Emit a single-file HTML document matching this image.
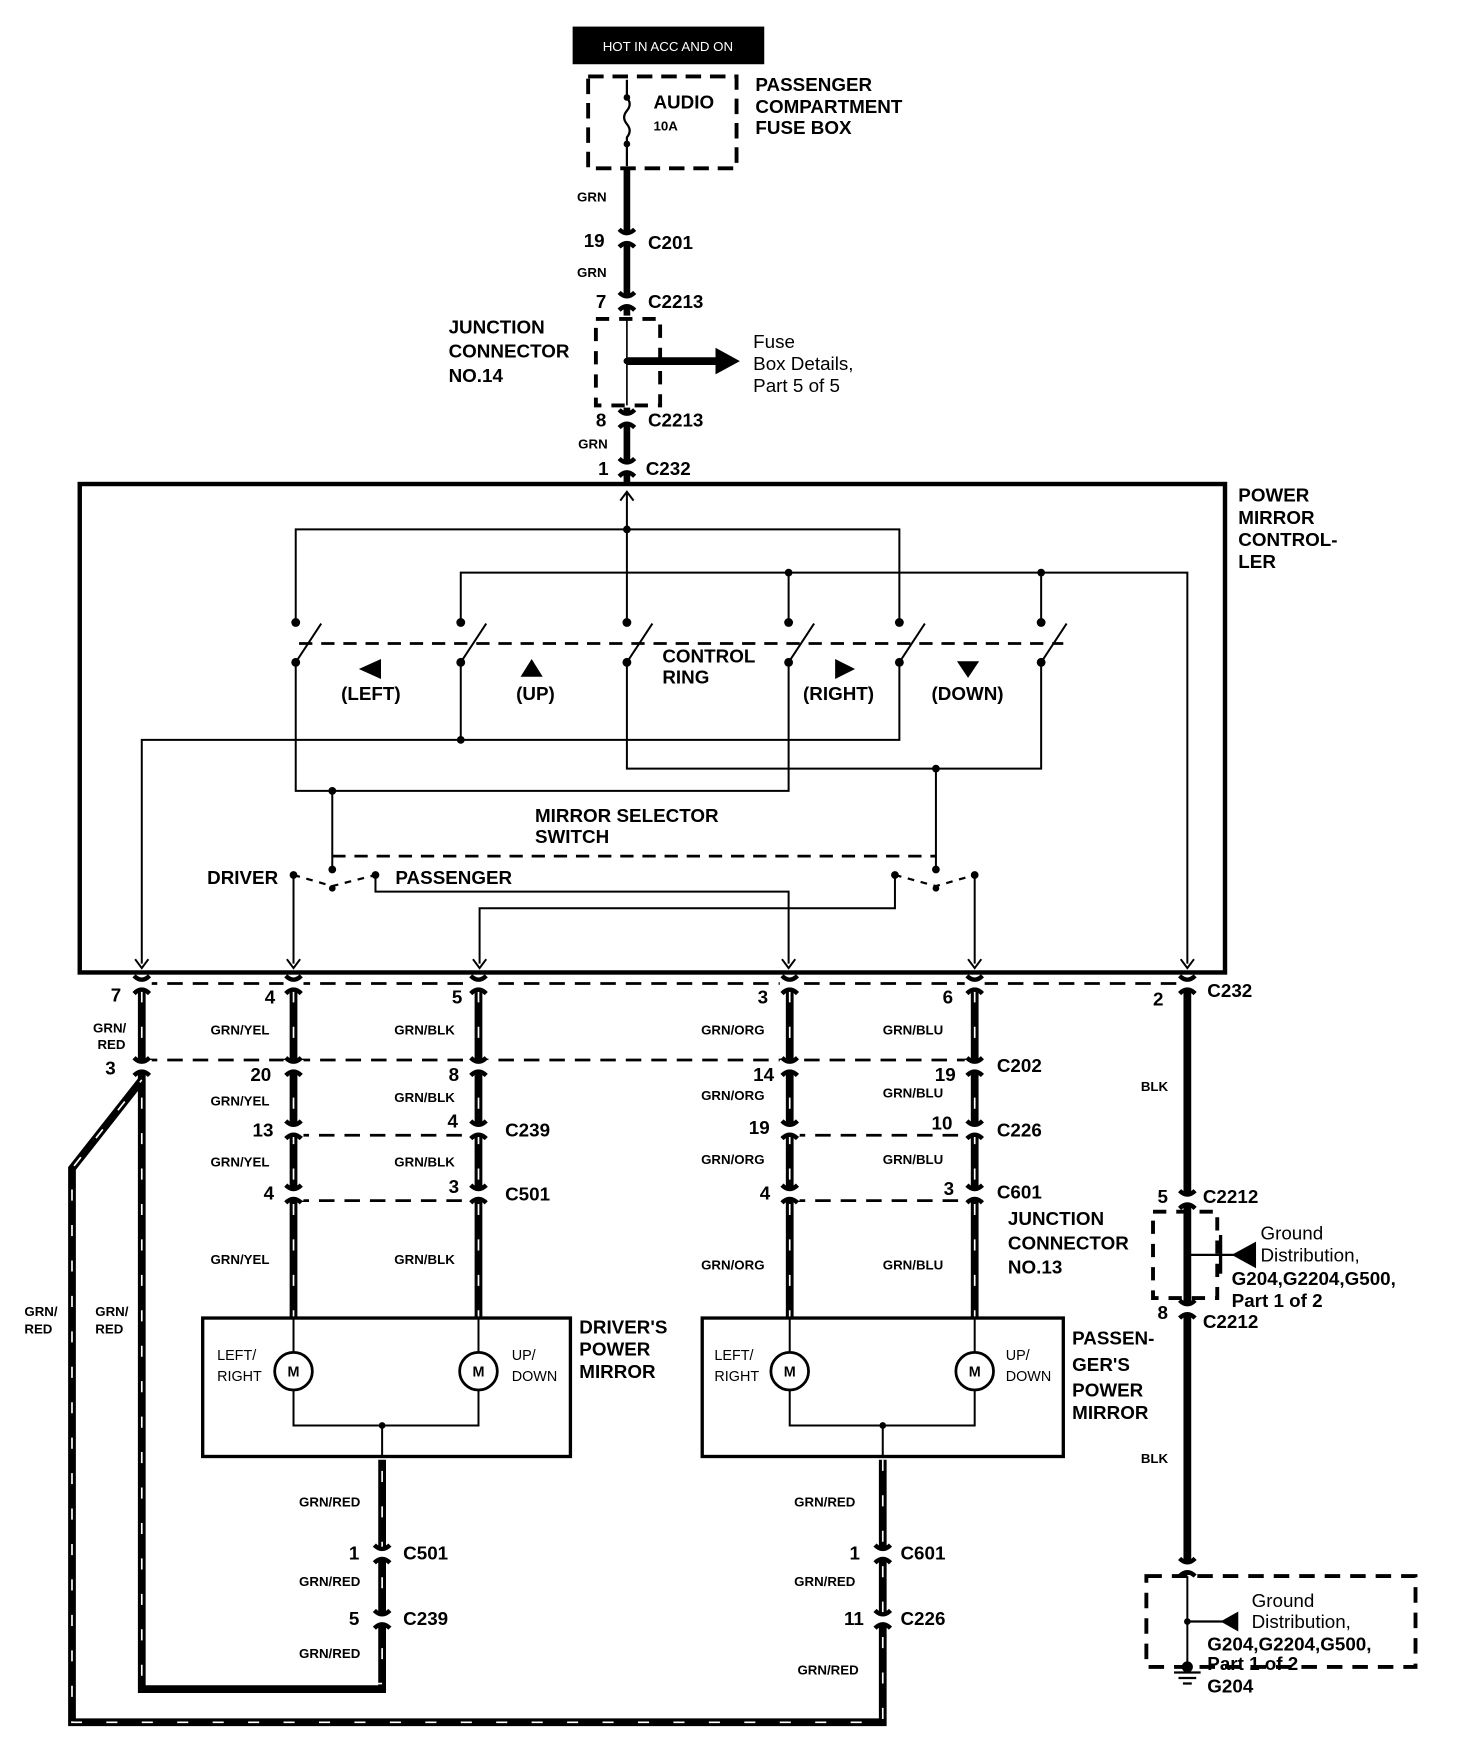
<!DOCTYPE html>
<html><head><meta charset="utf-8"><style>
html,body{margin:0;padding:0;background:#fff}
svg{display:block}
text{font-family:"Liberation Sans",sans-serif;font-weight:bold;fill:#000}
.t{font-size:17px}
.s{font-size:12px}
.m{font-size:18px}
.n{font-size:17px;font-weight:normal}
</style></head><body>
<svg width="1472" height="1750" viewBox="0 0 1329 1580" preserveAspectRatio="none" xmlns="http://www.w3.org/2000/svg">
<defs>
<g id="cn"><rect x="-9" y="-6" width="18" height="12" fill="#fff"/><path d="M-7,-8 Q0,-1 7,-8 M-7,8 Q0,1 7,8" fill="none" stroke="#000" stroke-width="4"/></g>
<g id="ar"><path d="M-6,-8 L0,0 L6,-8" fill="none" stroke="#000" stroke-width="1.8"/></g>
</defs>
<rect width="1329" height="1580" fill="#fff"/>
<!-- top -->
<rect x="517" y="24" width="173" height="34" fill="#000"/>
<text x="603" y="46" font-size="12" text-anchor="middle" style="fill:#fff;font-weight:normal">HOT IN ACC AND ON</text>
<rect x="531" y="69" width="134" height="83" fill="none" stroke="#000" stroke-width="3.5" stroke-dasharray="14,8"/>
<path d="M566,72 V88 q5,6 0,12 q-5,6 0,12 q5,6 0,12 V150" fill="none" stroke="#000" stroke-width="2"/>
<circle cx="566" cy="88" r="3"/><circle cx="566" cy="130" r="3"/>
<text x="590" y="98" class="t">AUDIO</text><text x="590" y="118" class="s">10A</text>
<text x="682" y="82" class="t">PASSENGER</text><text x="682" y="102" class="t">COMPARTMENT</text><text x="682" y="121" class="t">FUSE BOX</text>
<line x1="566" y1="152" x2="566" y2="285" stroke="#000" stroke-width="6"/>
<line x1="566" y1="368" x2="566" y2="437" stroke="#000" stroke-width="6"/>
<text x="521" y="182" class="s">GRN</text><text x="521" y="250" class="s">GRN</text><text x="522" y="405" class="s">GRN</text>
<use href="#cn" x="566" y="215"/><text x="527" y="223" class="t">19</text><text x="585" y="225" class="t">C201</text>
<use href="#cn" x="566" y="272"/><text x="538" y="278" class="t">7</text><text x="585" y="278" class="t">C2213</text>
<rect x="538" y="288" width="58" height="78" fill="none" stroke="#000" stroke-width="3.5" stroke-dasharray="12,9"/>
<line x1="566" y1="288" x2="566" y2="366" stroke="#000" stroke-width="1.5"/>
<circle cx="566" cy="326" r="3"/>
<line x1="566" y1="326" x2="650" y2="326" stroke="#000" stroke-width="7"/>
<path d="M646,314 L668,326 L646,338Z"/>
<text x="680" y="314" class="n">Fuse</text><text x="680" y="334" class="n">Box Details,</text><text x="680" y="354" class="n">Part 5 of 5</text>
<text x="405" y="301" class="t">JUNCTION</text><text x="405" y="323" class="t">CONNECTOR</text><text x="405" y="345" class="t">NO.14</text>
<use href="#cn" x="566" y="378"/><text x="538" y="385" class="t">8</text><text x="585" y="385" class="t">C2213</text>
<use href="#cn" x="566" y="422"/><text x="540" y="429" class="t">1</text><text x="583" y="429" class="t">C232</text>
<!-- controller -->
<rect x="72" y="437" width="1034" height="441" fill="none" stroke="#000" stroke-width="4"/>
<text x="1118" y="453" class="t">POWER</text><text x="1118" y="473" class="t">MIRROR</text><text x="1118" y="493" class="t">CONTROL-</text><text x="1118" y="513" class="t">LER</text>
<g fill="none" stroke="#000" stroke-width="1.8">
<path d="M566,445 V562 M560,452 L566,444 L572,452"/>
<path d="M267,562 V478 H812 V562"/>
<path d="M416,562 V517 H1072 V870 M712,517 V562 M940,517 V562"/>
<path d="M267,598 V714 H712 V598"/>
<path d="M128,870 V668 H812 V598 M416,598 V668"/>
<path d="M566,598 V694 H940 V598"/>
<path d="M300,714 V785 M845,694 V785"/>
<path d="M265,790 V870 M339,790 V805 H712 V870 M433,870 V820 H808 V790 M880,790 V870"/>
<path d="M270,581 H960" stroke-dasharray="12,8" stroke-width="2.5"/>
<path d="M300,773 H845" stroke-dasharray="12,8" stroke-width="2.5"/>
<path d="M265,790 L300,800 L339,790 M808,790 L845,800 L880,790" stroke-dasharray="6,6" stroke-width="2"/>
<path d="M267,598 L290,563 M416,598 L439,563 M566,598 L589,563 M712,598 L735,563 M812,598 L835,563 M940,598 L963,563"/>
</g>
<g>
<circle cx="267" cy="562" r="4"/><circle cx="416" cy="562" r="4"/><circle cx="566" cy="562" r="4"/><circle cx="712" cy="562" r="4"/><circle cx="812" cy="562" r="4"/><circle cx="940" cy="562" r="4"/>
<circle cx="267" cy="598" r="4"/><circle cx="416" cy="598" r="4"/><circle cx="566" cy="598" r="4"/><circle cx="712" cy="598" r="4"/><circle cx="812" cy="598" r="4"/><circle cx="940" cy="598" r="4"/>
<circle cx="566" cy="478" r="3.5"/><circle cx="712" cy="517" r="3.5"/><circle cx="940" cy="517" r="3.5"/><circle cx="416" cy="668" r="3.5"/><circle cx="300" cy="714" r="3.5"/><circle cx="845" cy="694" r="3.5"/>
<circle cx="300" cy="785" r="3.5"/><circle cx="845" cy="785" r="3.5"/><circle cx="265" cy="790" r="3.5"/><circle cx="339" cy="790" r="3.5"/><circle cx="808" cy="790" r="3.5"/><circle cx="880" cy="790" r="3.5"/>
<circle cx="300" cy="802" r="3"/><circle cx="845" cy="802" r="3"/>
</g>
<path d="M324,604 L344,595 L344,613Z"/><path d="M480,595 L490,611 L470,611Z"/><path d="M754,595 L772,604 L754,613Z"/><path d="M864,597 L884,597 L874,612Z"/>
<text x="308" y="632" class="t">(LEFT)</text><text x="466" y="632" class="t">(UP)</text><text x="725" y="632" class="t">(RIGHT)</text><text x="841" y="632" class="t">(DOWN)</text>
<text x="598" y="598" class="t">CONTROL</text><text x="598" y="617" class="t">RING</text>
<text x="483" y="742" class="t">MIRROR SELECTOR</text><text x="483" y="761" class="t">SWITCH</text>
<text x="187" y="798" class="t">DRIVER</text><text x="357" y="798" class="t">PASSENGER</text>
<use href="#ar" x="128" y="874"/><use href="#ar" x="265" y="874"/><use href="#ar" x="433" y="874"/><use href="#ar" x="712" y="874"/><use href="#ar" x="880" y="874"/><use href="#ar" x="1072" y="874"/>
<!-- harness wires -->
<g stroke="#000" stroke-width="7" fill="none">
<path d="M128,885 V1525 H345 V1318"/>
<path d="M797,1318 V1555 H65 V1055 L128,975"/>
<path d="M265,885 V1190 M432,885 V1190 M713,885 V1190 M880,885 V1190"/>
<path d="M1072,885 V1422"/>
</g>
<g stroke="#fff" stroke-width="1.5" fill="none" stroke-dasharray="10,22">
<path d="M128,895 V1520 H345 V1318"/>
<path d="M797,1318 V1555 H65 V1055 L128,975"/>
<path d="M265,895 V1190 M432,895 V1190 M713,895 V1190 M880,895 V1190"/>
</g>
<g stroke="#000" stroke-width="2.5" stroke-dasharray="14,9" fill="none">
<path d="M128,888 H1072"/><path d="M128,957 H880"/><path d="M265,1025 H432 M713,1025 H880"/><path d="M265,1084 H432 M713,1084 H880"/>
</g>
<use href="#cn" x="128" y="889"/><use href="#cn" x="265" y="889"/><use href="#cn" x="432" y="889"/><use href="#cn" x="713" y="889"/><use href="#cn" x="880" y="889"/><use href="#cn" x="1072" y="889"/>
<use href="#cn" x="128" y="963"/><use href="#cn" x="265" y="963"/><use href="#cn" x="432" y="963"/><use href="#cn" x="713" y="963"/><use href="#cn" x="880" y="963"/>
<use href="#cn" x="265" y="1020"/><use href="#cn" x="432" y="1020"/><use href="#cn" x="713" y="1020"/><use href="#cn" x="880" y="1020"/>
<use href="#cn" x="265" y="1078"/><use href="#cn" x="432" y="1078"/><use href="#cn" x="713" y="1078"/><use href="#cn" x="880" y="1078"/>
<text x="100" y="904" class="t">7</text><text x="239" y="906" class="t">4</text><text x="408" y="906" class="t">5</text><text x="684" y="906" class="t">3</text><text x="851" y="906" class="t">6</text><text x="1041" y="908" class="t">2</text><text x="1090" y="900" class="t">C232</text>
<text x="84" y="932" class="s">GRN/</text><text x="88" y="947" class="s">RED</text>
<text x="190" y="934" class="s">GRN/YEL</text><text x="356" y="934" class="s">GRN/BLK</text><text x="633" y="934" class="s">GRN/ORG</text><text x="797" y="934" class="s">GRN/BLU</text>
<text x="95" y="970" class="t">3</text><text x="226" y="976" class="t">20</text><text x="405" y="976" class="t">8</text><text x="680" y="976" class="t">14</text><text x="844" y="976" class="t">19</text><text x="900" y="968" class="t">C202</text>
<text x="190" y="998" class="s">GRN/YEL</text><text x="356" y="995" class="s">GRN/BLK</text><text x="633" y="993" class="s">GRN/ORG</text><text x="797" y="991" class="s">GRN/BLU</text>
<text x="228" y="1026" class="t">13</text><text x="404" y="1018" class="t">4</text><text x="456" y="1026" class="t">C239</text><text x="676" y="1024" class="t">19</text><text x="841" y="1020" class="t">10</text><text x="900" y="1026" class="t">C226</text>
<text x="190" y="1053" class="s">GRN/YEL</text><text x="356" y="1053" class="s">GRN/BLK</text><text x="633" y="1051" class="s">GRN/ORG</text><text x="797" y="1051" class="s">GRN/BLU</text>
<text x="238" y="1083" class="t">4</text><text x="405" y="1077" class="t">3</text><text x="456" y="1084" class="t">C501</text><text x="686" y="1083" class="t">4</text><text x="852" y="1079" class="t">3</text><text x="900" y="1082" class="t">C601</text>
<text x="190" y="1141" class="s">GRN/YEL</text><text x="356" y="1141" class="s">GRN/BLK</text><text x="633" y="1146" class="s">GRN/ORG</text><text x="797" y="1146" class="s">GRN/BLU</text>
<text x="1030" y="985" class="s">BLK</text><text x="1030" y="1321" class="s">BLK</text>
<text x="22" y="1188" class="s">GRN/</text><text x="22" y="1204" class="s">RED</text><text x="86" y="1188" class="s">GRN/</text><text x="86" y="1204" class="s">RED</text>
<!-- junction 13 -->
<use href="#cn" x="1072" y="1083"/><text x="1045" y="1086" class="t">5</text><text x="1086" y="1086" class="t">C2212</text>
<rect x="1041" y="1094" width="58" height="78" fill="none" stroke="#000" stroke-width="3.5" stroke-dasharray="12,9"/>
<line x1="1072" y1="1094" x2="1072" y2="1172" stroke="#000" stroke-width="1.8"/><circle cx="1072" cy="1133" r="3"/>
<line x1="1072" y1="1133" x2="1115" y2="1133" stroke="#000" stroke-width="2"/>
<line x1="1102" y1="1115" x2="1102" y2="1150" stroke="#000" stroke-width="3"/>
<path d="M1112,1133 L1134,1121 L1134,1145Z"/>
<text x="1138" y="1119" class="n">Ground</text><text x="1138" y="1139" class="n">Distribution,</text><text x="1112" y="1160" class="t">G204,G2204,G500,</text><text x="1112" y="1180" class="t">Part 1 of 2</text>
<use href="#cn" x="1072" y="1182"/><text x="1045" y="1191" class="t">8</text><text x="1086" y="1199" class="t">C2212</text>
<text x="910" y="1106" class="t">JUNCTION</text><text x="910" y="1128" class="t">CONNECTOR</text><text x="910" y="1150" class="t">NO.13</text>
<!-- ground box -->
<use href="#cn" x="1072" y="1415"/>
<rect x="1035" y="1423" width="243" height="82" fill="none" stroke="#000" stroke-width="3.5" stroke-dasharray="14,9"/>
<line x1="1072" y1="1423" x2="1072" y2="1508" stroke="#000" stroke-width="1.8"/><circle cx="1072" cy="1464" r="3"/><circle cx="1072" cy="1505" r="5"/>
<line x1="1072" y1="1464" x2="1105" y2="1464" stroke="#000" stroke-width="2"/><path d="M1102,1464 L1118,1455 L1118,1473Z"/>
<path d="M1060,1510 H1084 M1064,1515 H1080 M1068,1520 H1076" stroke="#000" stroke-width="2"/>
<text x="1130" y="1451" class="n">Ground</text><text x="1130" y="1470" class="n">Distribution,</text><text x="1090" y="1490" class="t">G204,G2204,G500,</text><text x="1090" y="1508" class="t">Part 1 of 2</text><text x="1090" y="1528" class="t">G204</text>
<!-- mirrors -->
<g fill="none" stroke="#000">
<rect x="183" y="1190" width="332" height="125" stroke-width="3"/>
<rect x="634" y="1190" width="326" height="125" stroke-width="3"/>
<path d="M265,1190 V1222 M265,1254 V1287 H432 V1254 M432,1190 V1222 M345,1287 V1316" stroke-width="1.8"/>
<path d="M713,1190 V1222 M713,1254 V1287 H880 V1254 M880,1190 V1222 M797,1287 V1316" stroke-width="1.8"/>
<circle cx="265" cy="1238" r="17" stroke-width="2.5"/><circle cx="432" cy="1238" r="17" stroke-width="2.5"/>
<circle cx="713" cy="1238" r="17" stroke-width="2.5"/><circle cx="880" cy="1238" r="17" stroke-width="2.5"/>
</g>
<circle cx="345" cy="1287" r="3"/><circle cx="797" cy="1287" r="3"/>
<text x="265" y="1243" text-anchor="middle" font-size="13">M</text><text x="432" y="1243" text-anchor="middle" font-size="13">M</text><text x="713" y="1243" text-anchor="middle" font-size="13">M</text><text x="880" y="1243" text-anchor="middle" font-size="13">M</text>
<text x="196" y="1228" style="font-size:13px;font-weight:normal">LEFT/</text><text x="196" y="1247" style="font-size:13px;font-weight:normal">RIGHT</text>
<text x="462" y="1228" style="font-size:13px;font-weight:normal">UP/</text><text x="462" y="1247" style="font-size:13px;font-weight:normal">DOWN</text>
<text x="645" y="1228" style="font-size:13px;font-weight:normal">LEFT/</text><text x="645" y="1247" style="font-size:13px;font-weight:normal">RIGHT</text>
<text x="908" y="1228" style="font-size:13px;font-weight:normal">UP/</text><text x="908" y="1247" style="font-size:13px;font-weight:normal">DOWN</text>
<text x="523" y="1204" class="t">DRIVER'S</text><text x="523" y="1224" class="t">POWER</text><text x="523" y="1244" class="t">MIRROR</text>
<text x="968" y="1214" class="t">PASSEN-</text><text x="968" y="1238" class="t">GER'S</text><text x="968" y="1261" class="t">POWER</text><text x="968" y="1281" class="t">MIRROR</text>
<text x="270" y="1360" class="s">GRN/RED</text><use href="#cn" x="345" y="1403"/><text x="315" y="1408" class="t">1</text><text x="364" y="1408" class="t">C501</text>
<text x="270" y="1432" class="s">GRN/RED</text><use href="#cn" x="345" y="1462"/><text x="315" y="1467" class="t">5</text><text x="364" y="1467" class="t">C239</text>
<text x="270" y="1497" class="s">GRN/RED</text>
<text x="717" y="1360" class="s">GRN/RED</text><use href="#cn" x="797" y="1403"/><text x="767" y="1408" class="t">1</text><text x="813" y="1408" class="t">C601</text>
<text x="717" y="1432" class="s">GRN/RED</text><use href="#cn" x="797" y="1462"/><text x="762" y="1467" class="t">11</text><text x="813" y="1467" class="t">C226</text>
<text x="720" y="1512" class="s">GRN/RED</text>
</svg>
</body></html>
